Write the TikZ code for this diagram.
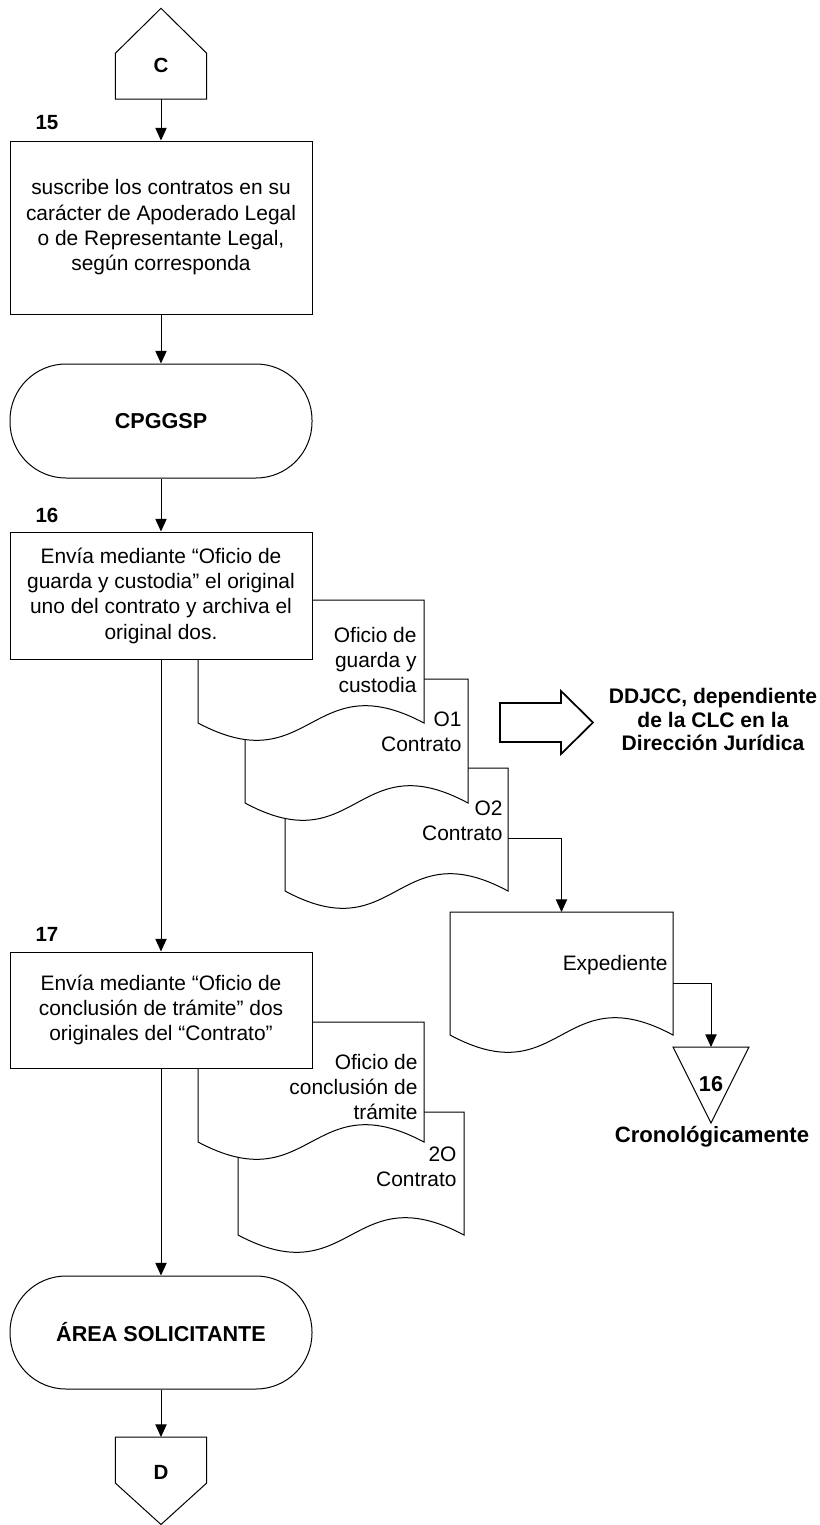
\documentclass[tikz,border=0pt]{standalone}
\usepackage{fontspec}
\setmainfont{Liberation Sans}
\usetikzlibrary{arrows.meta}
\begin{document}
\begin{tikzpicture}[x=0.75pt,y=-0.75pt,
  line width=0.75pt,
  every node/.style={font=\fontsize{15.7pt}{19pt}\selectfont, inner sep=0pt},
  stepbox/.style={draw, fill=white, minimum width=226.5pt, align=center},
  term/.style={draw, fill=white, minimum width=226.5pt, rounded corners=42pt,
    font=\fontsize{16.2pt}{19pt}\selectfont\bfseries},
  doc/.style={draw, fill=white},
  doctext/.style={anchor=east, align=right},
  num/.style={font=\fontsize{15.4pt}{19pt}\selectfont\bfseries},
  flow/.style={-{Triangle[length=9.5pt,width=8.5pt]}},
]
\useasboundingbox (0,0) rectangle (820,1525);

% document symbol: flat top, wavy bottom edge
\newcommand\docshape[4]{%
  \draw[doc] (#1,#2) -- (#3,#2) -- (#3,#4)
    .. controls ({(#1+#3)/2},{#4-60}) and ({(#1+#3)/2},{#4+60}) .. (#1,#4) -- cycle;}

% off-page connectors
\draw (115.3,99) -- (115.3,53.3) -- (161,8.3) -- (206.7,53.3) -- (206.7,99) -- cycle;
\node[num] (cC) at (161,65) {C};
\coordinate (cC-bot) at (161,99);

\draw (115.3,1437) -- (206.7,1437) -- (206.7,1483) -- (161,1524.5) -- (115.3,1483) -- cycle;
\node[num] (dD) at (161,1472) {D};
\coordinate (dD-top) at (161,1437);

% documents of step 16
\docshape{285}{768}{508}{891}
\docshape{245}{679}{468}{803}
\docshape{198}{600}{424}{723}
% file
\docshape{450}{912}{673}{1035}
% documents of step 17
\docshape{238}{1112}{464}{1235}
\docshape{198}{1022}{424}{1142}

\coordinate (docC-out) at (508,838);
\coordinate (exp-top) at (561.5,912);
\coordinate (exp-out) at (673,983);

% archive triangle
\draw (673,1047) -- (749,1047) -- (711,1123) -- cycle;
\coordinate (tri-top) at (711,1047);
\node[num, font=\fontsize{16.2pt}{19pt}\selectfont\bfseries] (tri) at (711,1084) {16};
\node[num, font=\fontsize{16.6pt}{19pt}\selectfont\bfseries] (crono) at (712,1137) {Cronológicamente};

% block arrow to the receiving office
\draw[line width=1.3pt, fill=white] (500,703) -- (561,703) -- (561,691) -- (593,722.5)
  -- (561,754) -- (561,742) -- (500,742) -- cycle;
\node[align=center, font=\fontsize{15.8pt}{17.6pt}\selectfont\bfseries] (ddjcc) at (713,719.5)
  {DDJCC, dependiente\\de la CLC en la\\Dirección Jurídica};

% document labels
\node[doctext] (tA) at (417,660) {Oficio de\\guarda y\\custodia};
\node[doctext] (tB) at (462,732) {O1\\Contrato};
\node[doctext] (tC) at (503,820.5) {O2\\Contrato};
\node[doctext] (tExp) at (668,965) {Expediente};
\node[doctext] (tD) at (418,1087) {Oficio de\\conclusión de\\trámite};
\node[doctext] (tE) at (457,1166.5) {2O\\Contrato};

% main steps
\node[num] (n15) at (47,123) {15};
\node[stepbox, minimum height=129.75pt] (s15) at (161,227.5)
  {suscribe los contratos en su\\carácter de Apoderado Legal\\o de Representante Legal,\\según corresponda};
\node[term, minimum height=85.5pt] (t1) at (161,421) {CPGGSP};
\node[num] (n16) at (47,515) {16};
\node[stepbox, minimum height=95.25pt] (s16) at (161,595.5)
  {Envía mediante “Oficio de\\guarda y custodia” el original\\uno del contrato y archiva el\\original dos.};
\node[num] (n17) at (47,934) {17};
\node[stepbox, minimum height=87pt] (s17) at (161,1010)
  {Envía mediante “Oficio de\\conclusión de trámite” dos\\originales del “Contrato”};
\node[term, minimum height=84.75pt] (t2) at (161,1332.5) {ÁREA SOLICITANTE};

% connectors
\draw[flow] (cC-bot) -- (s15);
\draw[flow] (s15) -- (t1);
\draw[flow] (t1) -- (s16);
\draw[flow] (s16) -- (s17);
\draw[flow] (s17) -- (t2);
\draw[flow] (t2) -- (dD-top);
\draw[flow] (docC-out) -| (exp-top);
\draw[flow] (exp-out) -| (tri-top);
\end{tikzpicture}
\end{document}
